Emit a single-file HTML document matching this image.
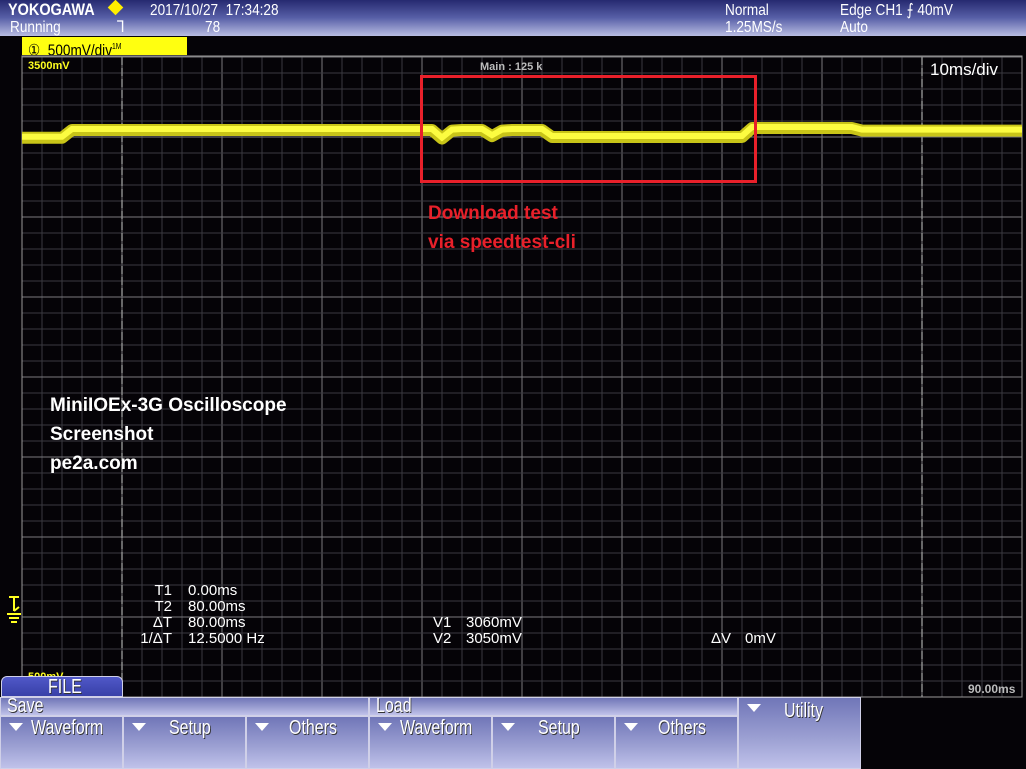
<!DOCTYPE html>
<html><head><meta charset="utf-8">
<style>
body{margin:0;width:1026px;height:769px;background:#050307;overflow:hidden;position:relative;font-family:"Liberation Sans",sans-serif}
.hdr{position:absolute;left:0;top:0;width:1026px;height:36px;background:linear-gradient(#262a70,#5860a8 50%,#b8bce2)}
.t{position:absolute;color:#fff;white-space:nowrap;font-size:16px;line-height:15px;transform-origin:left top;transform:scaleX(0.85)}
.btn{position:absolute;background:linear-gradient(#7076b8,#9ea2d4 60%,#c0c2ea);border:1px solid #d0d0e8;box-sizing:border-box}
.btn span{position:absolute;color:#fff;font-size:20px;transform:scaleX(0.8);transform-origin:left top;text-shadow:1px 1px 0 #333}
.tri{position:absolute;left:8px;top:6px;width:0;height:0;border-left:7px solid transparent;border-right:7px solid transparent;border-top:8px solid #fff}
</style></head><body>
<div class="hdr"></div>
<div class="t" style="left:8px;top:2px;font-size:17px;font-weight:bold">YOKOGAWA</div>
<div style="position:absolute;left:110px;top:2px;width:11px;height:11px;background:#ffee00;transform:rotate(45deg)"></div>
<div class="t" style="left:150px;top:3px">2017/10/27&nbsp; 17:34:28</div>
<div class="t" style="left:10px;top:20px">Running</div>
<div class="t" style="left:117px;top:20px">Ꞁ</div>
<div class="t" style="left:205px;top:20px">78</div>
<div class="t" style="left:725px;top:3px">Normal</div>
<div class="t" style="left:725px;top:20px">1.25MS/s</div>
<div class="t" style="left:840px;top:3px">Edge CH1 ⨍ 40mV</div>
<div class="t" style="left:840px;top:20px">Auto</div>
<div style="position:absolute;left:22px;top:37px;width:165px;height:18px;background:#ffff10"><span class="t" style="color:#000;left:6px;top:2px;font-size:16px">&#9312;&nbsp; 500mV/div<sup style="font-size:8px">1M</sup></span></div>

<svg id="scope" width="1026" height="769" style="position:absolute;left:0;top:0"></svg>

<div class="btn" style="left:1px;top:676px;width:122px;height:21px;border-radius:6px 6px 0 0;background:linear-gradient(#5058c8,#3840a8)"><span style="left:46px;top:-1px">FILE</span></div>
<div class="btn" style="left:0;top:697px;width:369px;height:19px"><span style="left:6px;top:-3px">Save</span></div>
<div class="btn" style="left:369px;top:697px;width:369px;height:19px"><span style="left:6px;top:-3px">Load</span></div>
<div class="btn" style="left:0;top:716px;width:123px;height:53px"><div class="tri"></div><span style="left:30px;top:0">Waveform</span></div>
<div class="btn" style="left:123px;top:716px;width:123px;height:53px"><div class="tri"></div><span style="left:45px;top:0">Setup</span></div>
<div class="btn" style="left:246px;top:716px;width:123px;height:53px"><div class="tri"></div><span style="left:42px;top:0">Others</span></div>
<div class="btn" style="left:369px;top:716px;width:123px;height:53px"><div class="tri"></div><span style="left:30px;top:0">Waveform</span></div>
<div class="btn" style="left:492px;top:716px;width:123px;height:53px"><div class="tri"></div><span style="left:45px;top:0">Setup</span></div>
<div class="btn" style="left:615px;top:716px;width:123px;height:53px"><div class="tri"></div><span style="left:42px;top:0">Others</span></div>
<div class="btn" style="left:738px;top:697px;width:123px;height:72px"><div class="tri"></div><span style="left:45px;top:2px">Utility</span></div>

<script>
const samplesMs=[0,1,2,3,4,5,6,7,8,9,10,11,12,13,14,15,16,17,18,19,20,21,22,23,24,25,26,27,28,29,30,31,32,33,34,35,36,37,38,39,40,41,42,43,44,45,46,47,48,49,50,51,52,53,54,55,56,57,58,59,60,61,62,63,64,65,66,67,68,69,70,71,72,73,74,75,76,77,78,79,80,81,82,83,84,85,86,87,88,89,90,91,92,93,94,95,96,97,98,99,100];
const voltsMv=[2995,2995,2995,2995,2995,3044,3044,3044,3044,3044,3044,3044,3044,3044,3044,3044,3044,3044,3044,3044,3044,3044,3044,3044,3044,3044,3044,3044,3044,3044,3044,3044,3044,3044,3044,3044,3044,3044,3044,3044,3044,3044,2990,3040,3044,3044,3044,3005,3040,3044,3044,3044,3044,3000,3000,3000,3000,3000,3000,3000,3000,3000,3000,3000,3000,3000,3000,3000,3000,3000,3000,3000,3000,3056,3056,3056,3056,3056,3056,3056,3056,3056,3056,3056,3040,3040,3040,3040,3040,3040,3040,3040,3040,3040,3040,3040,3040,3040,3040,3040,3040,3040];
const readouts=["T1","0.00ms","T2","80.00ms","ΔT","80.00ms","1/ΔT","12.5000 Hz"];
const vReadouts=["V1","3060mV","V2","3050mV","ΔV","0mV"];
const cursorMs=[10,90];
const L=22,R=1022,T=57,B=697;
const x=t=>L+(t/100)*(R-L);
const y=v=>T+(3500-v)/500*80;
const NS='http://www.w3.org/2000/svg';
const svg=document.getElementById('scope');
function el(tag,attrs){const e=document.createElementNS(NS,tag);for(const k in attrs)e.setAttribute(k,attrs[k]);svg.appendChild(e);return e;}
for(let gx=L;gx<=R;gx+=20){const g=el('line',{x1:gx,x2:gx,y1:T,y2:B,stroke:(gx-L)%100===0?'#7a7a7e':'#3a3a40','stroke-width':1});

}
for(let gy=T;gy<=B;gy+=16){const g=el('line',{x1:L,x2:R,y1:gy,y2:gy,stroke:(gy-T)%80===0?'#7a7a7e':'#3a3a40','stroke-width':1});

}
const bd=el('rect',{x:L,y:T-1,width:R-L,height:B-T+1,fill:'none',stroke:'#9a9a9a'});


cursorMs.forEach(c=>{const cl=el('line',{x1:x(c),x2:x(c),y1:T,y2:B,stroke:'#8a8a8a','stroke-dasharray':'8 3','stroke-width':1.5});

});
let d='';
samplesMs.forEach((t,i)=>{d+=(i?'L':'M')+x(t)+' '+y(voltsMv[i]);});
const tr=el('path',{d:d,fill:'none',stroke:'#c8c418','stroke-width':12,'stroke-linejoin':'round'});


const tr2=el('path',{d:d,fill:'none',stroke:'#fcfc40','stroke-width':6,transform:'translate(0,-1)'});


function txt(s,tx,ty,attrs,name){const e=el('text',Object.assign({x:tx,y:ty,fill:'#fff','font-family':'Liberation Sans, sans-serif','font-size':15},attrs));e.textContent=s;

return e;}
txt('3500mV',28,69,{fill:'#ffff20','font-size':11,'font-weight':'bold'},'top-voltage-label');
txt('500mV',28,680,{fill:'#ffff20','font-size':11,'font-weight':'bold'},'bottom-voltage-label');
txt('Main : 125 k',480,70,{fill:'#bbb','font-size':11,'font-weight':'bold'},'memory-length');
txt('10ms/div',930,75,{'font-size':17},'timebase');
txt('90.00ms',968,693,{fill:'#bbb','font-size':12,'font-weight':'bold'},'t2-position');
for(let i=0;i<4;i++){txt(readouts[i*2],172,595+i*16,{'text-anchor':'end'},'cursor-label');txt(readouts[i*2+1],188,595+i*16,{},'cursor-value');}
txt(vReadouts[0],433,627,{},'v1-label');txt(vReadouts[1],466,627,{},'v1-value');
txt(vReadouts[2],433,643,{},'v2-label');txt(vReadouts[3],466,643,{},'v2-value');
txt(vReadouts[4],711,643,{},'dv-label');txt(vReadouts[5],745,643,{},'dv-value');
const gm=el('path',{d:'M9 597h10M14 597v14M14 611l5-4M7 614h14M9 618h10M11 622h6',stroke:'#ffff20','stroke-width':2,fill:'none'});


const rb=el('rect',{x:421.5,y:76.5,width:334,height:105,fill:'none',stroke:'#e8202a','stroke-width':3});


txt('Download test',428,219,{fill:'#e8202a','font-size':19,'font-weight':'bold'},'annotation-text');
txt('via speedtest-cli',428,248,{fill:'#e8202a','font-size':19,'font-weight':'bold'},'annotation-text-2');
txt('MiniIOEx-3G Oscilloscope',50,411,{'font-size':19,'font-weight':'bold'},'caption-title');
txt('Screenshot',50,440,{'font-size':19,'font-weight':'bold'},'caption-subtitle');
txt('pe2a.com',50,469,{'font-size':19,'font-weight':'bold'},'caption-site');
</script>
</body></html>
